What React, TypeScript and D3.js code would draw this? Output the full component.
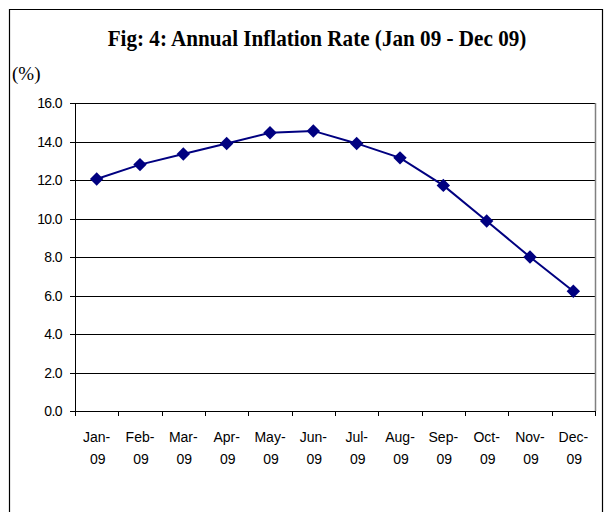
import React from 'react';
import * as d3 from 'd3';

const months = ['Jan', 'Feb', 'Mar', 'Apr', 'May', 'Jun', 'Jul', 'Aug', 'Sep', 'Oct', 'Nov', 'Dec'];
const yearLabel = '09';
const inflation = [12.05, 12.8, 13.35, 13.9, 14.45, 14.55, 13.9, 13.15, 11.72, 9.87, 8.0, 6.22];
const yTicks = [0, 2, 4, 6, 8, 10, 12, 14, 16];

const W = 605, H = 512;
const left = 75, right = 595, top = 103, bottom = 411;
const navy = '#000080';

export default function App() {
  const x = d3.scaleBand<string>().domain(months).range([left, right]);
  const y = d3.scaleLinear().domain([0, 16]).range([bottom, top]);
  const cx = (m: string) => (x(m) as number) + x.bandwidth() / 2;
  const line = d3.line<number>()
    .x((_, i) => cx(months[i]))
    .y(d => y(d));
  const diamond = d3.symbol().type(d3.symbolDiamond2).size(115)() as string;
  const boundaries = months.map(m => x(m) as number).concat([right]);

  return (
    <svg width={W} height={H} style={{ position: 'absolute', left: 0, top: 0, background: '#fff' }}>
      {/* outer frame */}
      <path d={`M9.5,${H + 2}V9.5H602.5V${H + 2}`} fill="none" stroke="#000" strokeWidth={1.2} />
      <text x={317} y={46} textAnchor="middle" fontFamily="Liberation Serif" fontWeight="bold" fontSize={23}
        transform="translate(317,0) scale(0.92,1) translate(-317,0)">
        Fig: 4: Annual Inflation Rate (Jan 09 - Dec 09)
      </text>
      <text x={12} y={80} fontFamily="Liberation Serif" fontSize={19}>(%)</text>

      {/* gridlines */}
      {yTicks.map(t => (
        <line key={t} x1={left - 5} x2={right} y1={Math.round(y(t)) + 0.5} y2={Math.round(y(t)) + 0.5}
          stroke="#000" strokeWidth={1} />
      ))}
      <line x1={right + 0.5} x2={right + 0.5} y1={top} y2={bottom} stroke="#808080" strokeWidth={1.5} />
      <line x1={left + 0.5} x2={left + 0.5} y1={top} y2={bottom + 5} stroke="#000" strokeWidth={1} />
      {boundaries.map((b, i) => (
        <line key={i} x1={Math.round(b) + 0.5} x2={Math.round(b) + 0.5} y1={bottom} y2={bottom + 5} stroke="#000" />
      ))}

      {yTicks.map(t => (
        <text key={t} x={62} y={y(t) + 5} textAnchor="end" fontFamily="Liberation Sans" fontSize={14}
          letterSpacing={-0.6}>
          {t.toFixed(1)}
        </text>
      ))}
      {months.map(m => (
        <g key={m} fontFamily="Liberation Sans" fontSize={14} textAnchor="middle">
          <text x={cx(m)} y={442}>{m}-</text>
          <text x={cx(m) + 1} y={464}>{yearLabel}</text>
        </g>
      ))}

      <path d={line(inflation) as string} fill="none" stroke={navy} strokeWidth={2} />
      {inflation.map((v, i) => (
        <path key={i} d={diamond} transform={`translate(${cx(months[i])},${y(v)})`} fill={navy} />
      ))}
    </svg>
  );
}
